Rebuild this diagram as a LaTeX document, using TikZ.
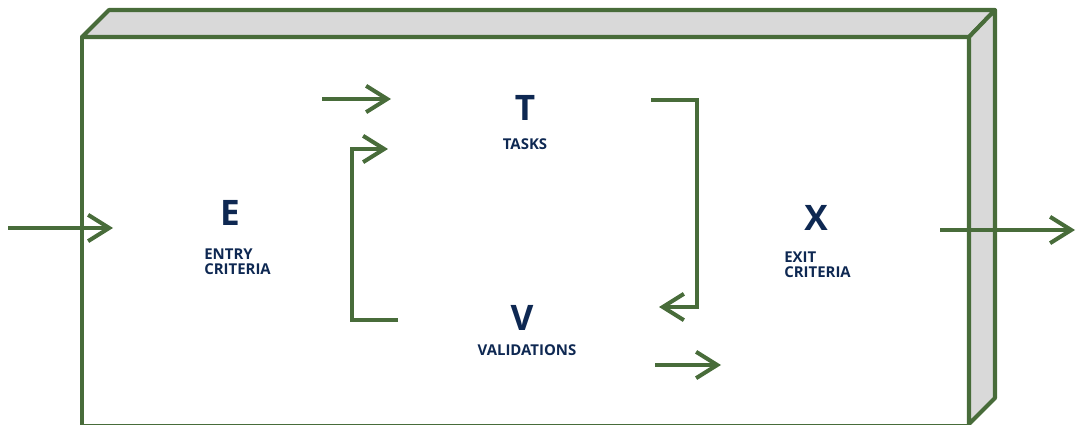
\documentclass[tikz,border=0pt]{standalone}
\usepackage{fontspec}
\setmainfont{Open Sans}
\usepackage{tikz}
\usetikzlibrary{arrows.meta, positioning}

\definecolor{boxgreen}{RGB}{72,108,58}
\definecolor{boxgray}{RGB}{217,217,217}
\definecolor{textnavy}{RGB}{14,40,82}

\begin{document}
\begin{tikzpicture}[
    x=0.02cm, y=-0.02cm,
    edge/.style={draw=boxgreen, line width=2.3pt, line join=round},
    flow/.style={edge, line join=miter, -{Straight Barb[length=12pt, width=15pt, line width=2.3pt]}},
    letter/.style={font=\bfseries\fontsize{20}{20}\selectfont, text=textnavy, inner sep=0pt},
    caption/.style={font=\bfseries\fontsize{8.5}{8.6}\selectfont, text=textnavy, inner sep=0pt, align=left}
]
    \useasboundingbox (0,0) rectangle (1076,425);

    % block: front, then the top and right faces
    \draw[edge] (82,426) rectangle (969,37);
    \filldraw[edge, fill=boxgray] (82,37) -- (109,10) -- (995,10) -- (969,37) -- cycle;
    \filldraw[edge, fill=boxgray] (969,37) -- (995,10) -- (995,398) -- (969,424) -- cycle;

    % letters and captions
    \node[letter] (E) at (230,213) {E};
    \node[caption, anchor=west] (entry) at (204,262) {ENTRY\\CRITERIA};
    \node[letter] (T) at (525,108) {T};
    \node[caption] (tasks) at (525,144) {TASKS};
    \node[letter] (V) at (522,318) {V};
    \node[caption] (valid) at (527,350) {VALIDATIONS};
    \node[letter] (X) at (816,218) {X};
    \node[caption, anchor=west] (exit) at (784,265) {EXIT\\CRITERIA};

    % arrow ends
    \coordinate (in1) at (8,228);
    \coordinate (in2) at (113,228);
    \coordinate (t1) at (322,99);
    \coordinate (t2) at (391,99);
    \coordinate (l1) at (398,320);
    \coordinate (l2) at (388,149);
    \coordinate (r1) at (651,100);
    \coordinate (r2) at (659,307);
    \coordinate (b1) at (655,365);
    \coordinate (b2) at (721,365);
    \coordinate (out1) at (940,230);
    \coordinate (out2) at (1075,230);

    % arrows
    \draw[flow] (in1) -- (in2);
    \draw[flow] (t1) -- (t2);
    \draw[flow] (l1) -| (352,149) -- (l2);
    \draw[flow] (r1) -| (697,307) -- (r2);
    \draw[flow] (b1) -- (b2);
    \draw[flow] (out1) -- (out2);
\end{tikzpicture}
\end{document}
